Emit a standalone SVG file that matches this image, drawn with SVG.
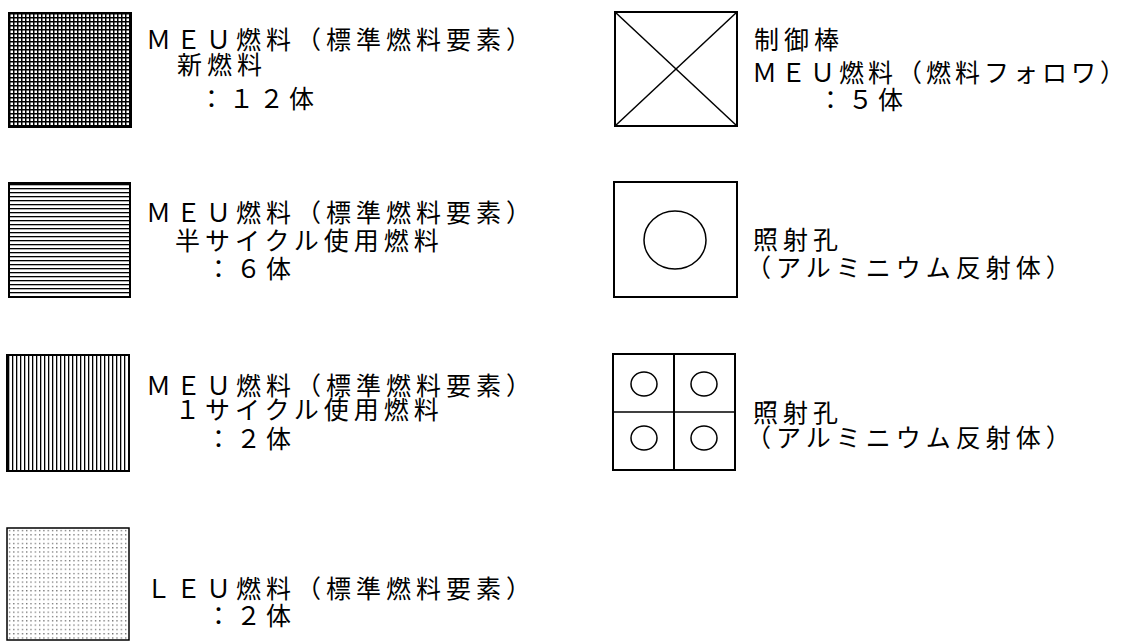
<svg xmlns="http://www.w3.org/2000/svg" width="1131" height="642" viewBox="0 0 1131 642">
<style>
.t{font-family:"Noto Sans CJK JP","Noto Sans CJK SC",sans-serif;font-size:25px;letter-spacing:5px;fill:#000}
.box{stroke:#000;stroke-width:2}
.ln{stroke:#000;stroke-width:1.5;fill:none}
.empty{fill:none}
</style>
<defs>
<pattern id="pGrid" patternUnits="userSpaceOnUse" x="9" y="13" width="4" height="4">
<rect width="4" height="4" fill="#fff"/>
<rect x="0" y="0" width="1.5" height="4" fill="#000"/>
<rect x="0" y="0" width="4" height="1.5" fill="#000"/>
</pattern>
<pattern id="pHoriz" patternUnits="userSpaceOnUse" x="0" y="184" width="4" height="4">
<rect width="4" height="4" fill="#fff"/>
<rect x="0" y="0" width="4" height="1.3" fill="#000"/>
</pattern>
<pattern id="pVert" patternUnits="userSpaceOnUse" x="8" y="0" width="4" height="4">
<rect width="4" height="4" fill="#fff"/>
<rect x="0" y="0" width="1.3" height="4" fill="#000"/>
</pattern>
<pattern id="pDots" patternUnits="userSpaceOnUse" x="8" y="529" width="4.3" height="4.3">
<rect width="4.3" height="4.3" fill="#fff"/>
<rect x="1" y="1" width="1.1" height="1.1" fill="#333"/>
</pattern>
</defs>
<rect width="1131" height="642" fill="#fff"/>

<g id="meu-new">
<rect x="9" y="13" width="122" height="114" class="box" style="fill:url(#pGrid)"/>
<text class="t" x="146" y="49">ＭＥＵ燃料（標準燃料要素）</text>
<text class="t" x="177" y="74">新燃料</text>
<text class="t" x="199" y="108">：１２体</text>
</g>

<g id="meu-half">
<rect x="9" y="183" width="121" height="114" class="box" style="fill:url(#pHoriz)"/>
<text class="t" x="146" y="222">ＭＥＵ燃料（標準燃料要素）</text>
<text class="t" x="175" y="250">半サイクル使用燃料</text>
<text class="t" x="206" y="278">：６体</text>
</g>

<g id="meu-one">
<rect x="7" y="355" width="122" height="116" class="box" style="fill:url(#pVert)"/>
<text class="t" x="146" y="395">ＭＥＵ燃料（標準燃料要素）</text>
<text class="t" x="175" y="419">１サイクル使用燃料</text>
<text class="t" x="206" y="448">：２体</text>
</g>

<g id="leu">
<rect x="7" y="528" width="122" height="112" style="fill:url(#pDots)" stroke="#000" stroke-width="1.5"/>
<text class="t" x="146" y="598">ＬＥＵ燃料（標準燃料要素）</text>
<text class="t" x="206" y="625">：２体</text>
</g>

<g id="control-rod">
<rect x="615" y="12" width="122" height="114" class="box empty"/>
<line x1="615" y1="12" x2="737" y2="126" class="ln"/>
<line x1="737" y1="12" x2="615" y2="126" class="ln"/>
<text class="t" x="754" y="49">制御棒</text>
<text class="t" x="752" y="82" style="letter-spacing:4px">ＭＥＵ燃料（燃料フォロワ）</text>
<text class="t" x="818" y="109">：５体</text>
</g>

<g id="irradiation-hole-1">
<rect x="614" y="182" width="123" height="115" class="box empty"/>
<ellipse cx="675" cy="240" rx="31" ry="29" class="ln"/>
<text class="t" x="753" y="249">照射孔</text>
<text class="t" x="746" y="277">（アルミニウム反射体）</text>
</g>

<g id="irradiation-hole-4">
<rect x="613" y="354" width="122" height="116" class="box empty"/>
<line x1="674" y1="354" x2="674" y2="470" class="box"/>
<line x1="613" y1="412" x2="735" y2="412" class="ln"/>
<ellipse cx="644" cy="384" rx="13" ry="12" class="ln"/>
<ellipse cx="704" cy="384" rx="13" ry="12" class="ln"/>
<ellipse cx="644" cy="438" rx="13" ry="12" class="ln"/>
<ellipse cx="704" cy="438" rx="13" ry="12" class="ln"/>
<text class="t" x="753" y="422">照射孔</text>
<text class="t" x="746" y="447">（アルミニウム反射体）</text>
</g>
</svg>
